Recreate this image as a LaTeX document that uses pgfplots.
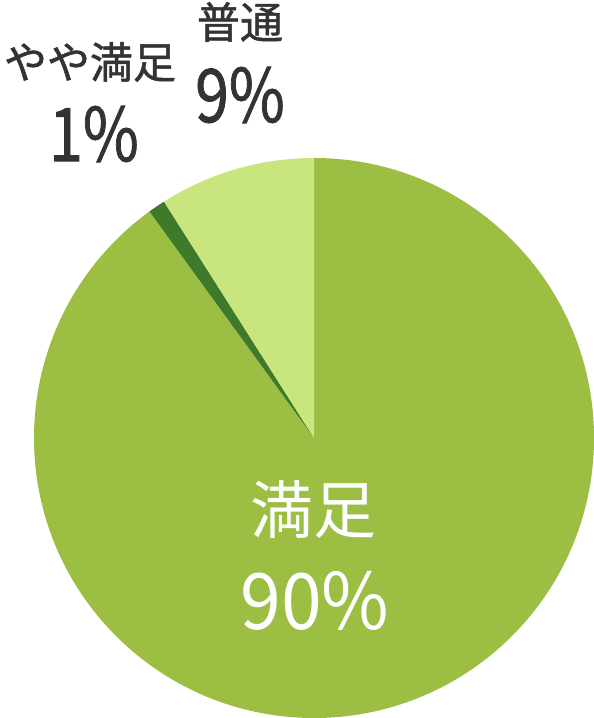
\documentclass[border=0pt]{standalone}
\usepackage{pgfplots}
\pgfplotsset{compat=1.18}
\usepackage{pgfplotstable}
\usepackage{fontspec}
\setmainfont{Noto Sans CJK JP}
\newfontfamily\jpmed[FakeBold=1.2]{Noto Sans CJK JP}
\definecolor{manzoku}{HTML}{9CBE43}
\definecolor{yaya}{HTML}{3E7A2A}
\definecolor{futsu}{HTML}{C8E67D}
\definecolor{txt}{HTML}{333333}

% share of answers, clockwise from the top
\pgfplotstableread{
share
90
1
9
}\piedata

\pgfplotstablegetelem{0}{share}\of\piedata \let\va\pgfplotsretval
\pgfplotstablegetelem{1}{share}\of\piedata \let\vb\pgfplotsretval
\pgfplotstablegetelem{2}{share}\of\piedata \let\vc\pgfplotsretval
\pgfmathsetmacro\aA{90-3.6*\va}
\pgfmathsetmacro\aB{\aA-3.6*\vb}
\pgfmathsetmacro\aC{\aB-3.6*\vc}

\begin{document}
\begin{tikzpicture}
\begin{axis}[
  x=0.5pt, y=0.5pt, xmin=0, xmax=594, ymin=0, ymax=718,
  scale only axis, hide axis, clip=false]
  \fill[manzoku] (axis cs:314,280) -- ++(90:140pt) arc[start angle=90, end angle=\aA, radius=140pt] -- cycle;
  \fill[yaya] (axis cs:314,280) -- ++(\aA:140pt) arc[start angle=\aA, end angle=\aB, radius=140pt] -- cycle;
  \fill[futsu] (axis cs:314,280) -- ++(\aB:140pt) arc[start angle=\aB, end angle=\aC, radius=140pt] -- cycle;

  \node[white, inner sep=0pt, font=\fontsize{31.5pt}{31.5pt}\selectfont] at (axis cs:313,208) {満足};
  \node[white, inner sep=0pt, transform shape, xscale=0.94, font=\fontsize{39pt}{39pt}\selectfont] at (axis cs:315,117) {90\%};
  \node[txt, inner sep=0pt, font=\jpmed\fontsize{21.5pt}{21.5pt}\selectfont] at (axis cs:90,656) {やや満足};
  \node[txt, inner sep=0pt, transform shape, xscale=0.82, font=\jpmed\fontsize{37pt}{37pt}\selectfont] at (axis cs:94,584) {1\%};
  \node[txt, inner sep=0pt, font=\jpmed\fontsize{21.5pt}{21.5pt}\selectfont] at (axis cs:240,696) {普通};
  \node[txt, inner sep=0pt, transform shape, xscale=0.82, font=\jpmed\fontsize{37pt}{37pt}\selectfont] at (axis cs:240,623) {9\%};
\end{axis}
\pgfresetboundingbox
\path[use as bounding box] (current axis.south west) rectangle (current axis.north east);
\end{tikzpicture}
\end{document}
